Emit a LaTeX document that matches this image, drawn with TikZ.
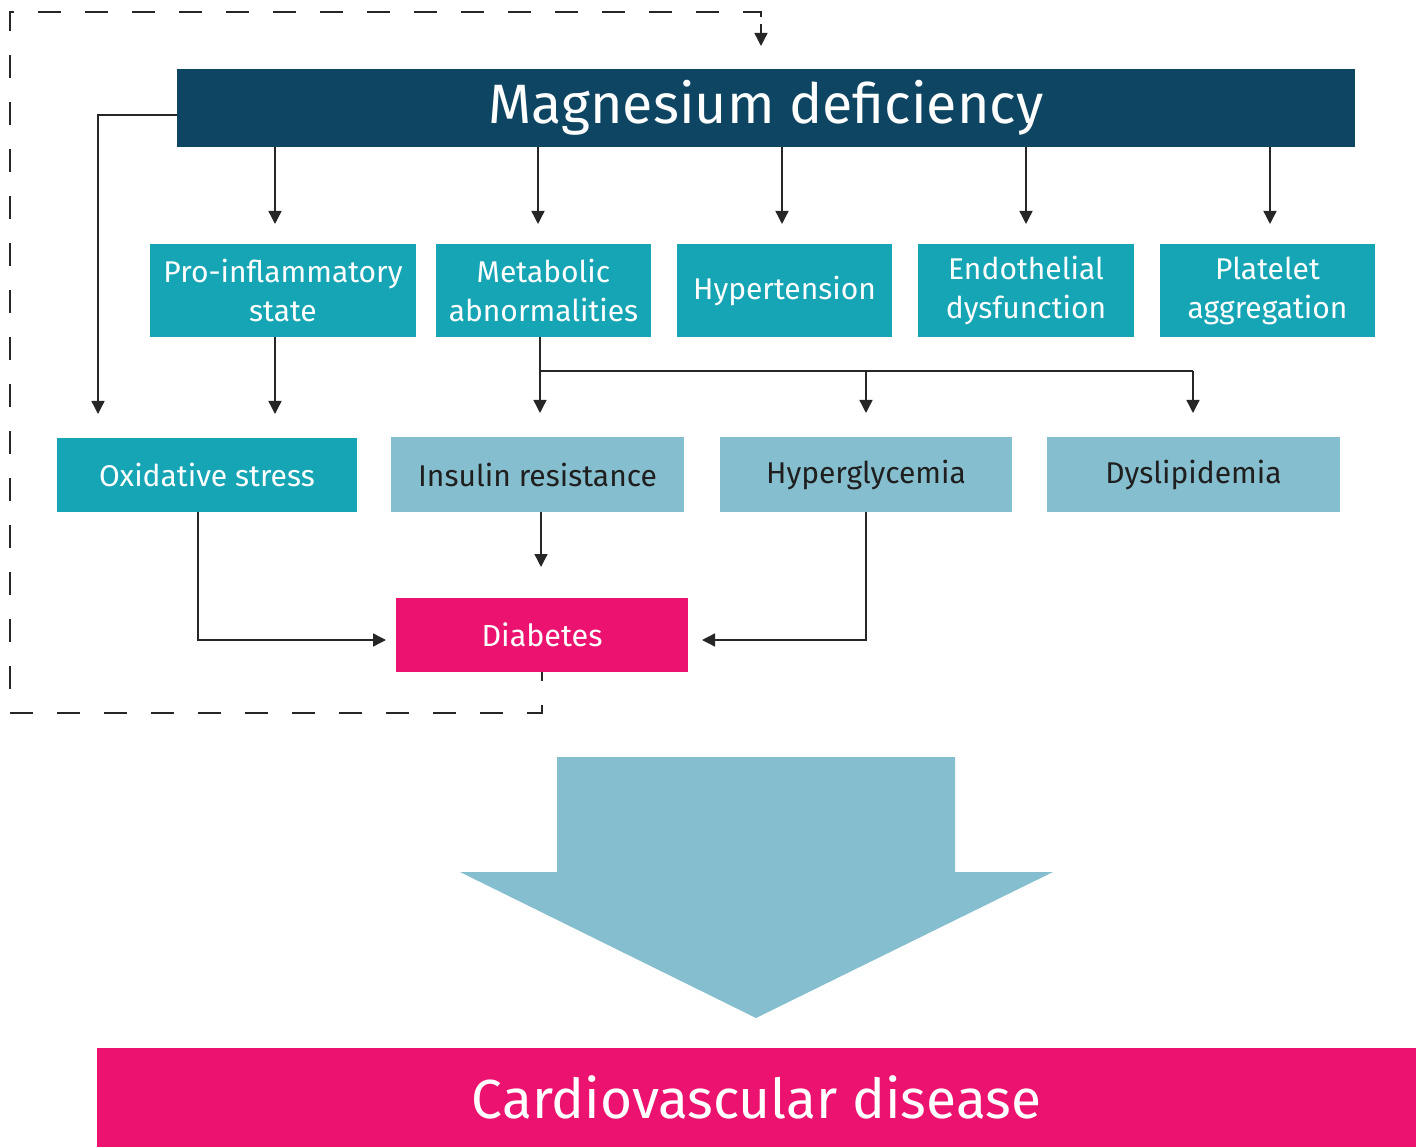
\documentclass[tikz,border=0pt]{standalone}
\usepackage{fontspec}
\setmainfont{Fira Sans}
\usetikzlibrary{arrows.meta,calc}
\definecolor{navy}{HTML}{0D4562}
\definecolor{teal}{HTML}{16A5B5}
\definecolor{lightb}{HTML}{85BECE}
\definecolor{pinkc}{HTML}{EC1370}
\definecolor{linec}{HTML}{262626}
\tikzset{
  box/.style={inner sep=0pt, outer sep=0pt, align=center, anchor=center},
  tealbox/.style={box, fill=teal, text=white, font=\fontsize{30}{39}\selectfont},
  lightbox/.style={box, fill=lightb, text=black!88, font=\fontsize{30}{39}\selectfont},
  arr/.style={draw=linec, line width=1.4pt, -{Triangle[width=13pt,length=13pt]}},
  conn/.style={draw=linec, line width=1.4pt},
  dashconn/.style={draw=linec, line width=1.5pt, dash pattern=on 23pt off 24pt, dash phase=14pt}
}
\begin{document}
\begin{tikzpicture}[x=1pt,y=-1pt]
\useasboundingbox (0,0) rectangle (1425,1147);
% top
\node[box, fill=navy, text=white, minimum width=1178pt, minimum height=78pt, font=\fontsize{55.5}{60}\selectfont] (mg) at (766,108) {Magnesium deficiency};
% row 2
\node[tealbox, minimum width=266pt, minimum height=93pt] (pro) at (283,290.5) {Pro-inflammatory\\state};
\node[tealbox, minimum width=215pt, minimum height=93pt] (met) at (543.5,290.5) {Metabolic\\abnormalities};
\node[tealbox, minimum width=215pt, minimum height=93pt] (hyp) at (784.5,290.5) {Hypertension};
\node[tealbox, minimum width=216pt, minimum height=93pt] (endo) at (1026,290.5) {Endothelial\\dysfunction};
\node[tealbox, minimum width=215pt, minimum height=93pt] (plat) at (1267.5,290.5) {Platelet\\aggregation};
% row 3
\node[tealbox, minimum width=300pt, minimum height=74pt] (oxi) at (207,475) {Oxidative stress};
\node[lightbox, minimum width=293pt, minimum height=75pt] (ins) at (537.5,474.5) {Insulin resistance};
\node[lightbox, minimum width=292pt, minimum height=75pt] (hypg) at (866,474.5) {Hyperglycemia};
\node[lightbox, minimum width=293pt, minimum height=75pt] (dys) at (1193.5,474.5) {Dyslipidemia};
% diabetes
\node[box, fill=pinkc, text=white, minimum width=292pt, minimum height=74pt, font=\fontsize{30.5}{39}\selectfont] (dia) at (542,635) {Diabetes};
% cvd
\node[box, fill=pinkc, text=white, minimum width=1319pt, minimum height=99pt, font=\fontsize{55}{66}\selectfont] (cvd) at (756.5,1097.5) {Cardiovascular disease};
% arrows from top
\coordinate (t1) at (275,224);
\coordinate (t2) at (538,224);
\coordinate (t3) at (782,224);
\coordinate (t4) at (1026,224);
\coordinate (t5) at (1270,224);
\foreach \c in {t1,t2,t3,t4,t5} \draw[arr] (mg.south -| \c) -- (\c);
% left loop
\coordinate (ox) at (98,414);
\draw[arr] ($(mg.west)+(0,7)$) -| (ox);
% pro -> oxidative-level
\coordinate (p1) at (275,414);
\draw[arr] (pro.south -| p1) -- (p1);
% metabolic branch
\coordinate (mb) at (540,371);
\coordinate (m1) at (540,413);
\coordinate (m2) at (866,413);
\coordinate (m3) at (1193,413);
\draw[conn] (met.south -| mb) -- (mb) -- (mb -| m3);
\draw[arr] (mb) -- (m1);
\draw[arr] (mb -| m2) -- (m2);
\draw[arr] (mb -| m3) -- (m3);
% insulin -> diabetes
\coordinate (i1) at (541,567);
\draw[arr] (ins.south -| i1) -- (i1);
% oxidative -> diabetes
\coordinate (o1) at (198,640);
\coordinate (o2) at (386,640);
\draw[arr] (oxi.south -| o1) -- (o1) -- (o2);
% hyperglycemia -> diabetes
\coordinate (h2) at (702,640);
\draw[arr] (hypg.south) |- (h2);
% dashed feedback
\coordinate (d1) at (542,713);
\coordinate (d2) at (10,12);
\coordinate (d3) at (761,46);
\draw[dashconn] (dia.south) -- (d1) -| (d2) -| ($(d3)+(0,-20)$);
\draw[arr] ($(d3)+(0,-22)$) -- (d3);
% big arrow
\fill[lightb] (557,757) -- (955,757) -- (955,872) -- (1053,872) -- (756,1018) -- (460,872) -- (557,872) -- cycle;
\end{tikzpicture}
\end{document}
